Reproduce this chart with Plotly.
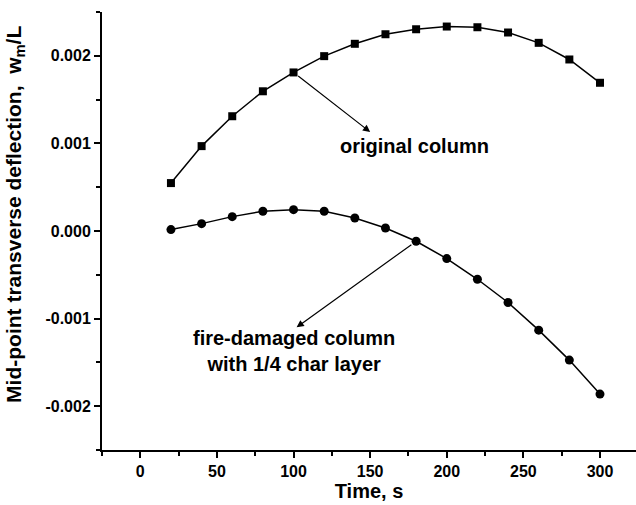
import plotly.graph_objects as go

# Time steps (s)
time_s = [20, 40, 60, 80, 100, 120, 140, 160, 180, 200, 220, 240, 260, 280, 300]

# Mid-point transverse deflection w_m/L
original = [0.000547, 0.000969, 0.00131, 0.001595, 0.00181, 0.001996, 0.002137,
            0.002246, 0.002303, 0.002334, 0.002326, 0.002266, 0.002148, 0.001958, 0.001692]
fire_damaged = [0.000016, 0.000084, 0.000164, 0.000225, 0.000244, 0.000225, 0.000148,
                0.000034, -0.000117, -0.000315, -0.000551, -0.000816, -0.001132,
                -0.001474, -0.001862]

x_ticks = [0, 50, 100, 150, 200, 250, 300]
y_ticks = [-0.002, -0.001, 0.0, 0.001, 0.002]
y_tick_text = ["-0.002", "-0.001", "0.000", "0.001", "0.002"]

FONT = "Liberation Sans, Arial, sans-serif"

fig = go.Figure()
fig.add_trace(go.Scatter(
    x=time_s, y=original, mode="lines+markers", name="original column",
    line=dict(color="black", width=1.5),
    marker=dict(symbol="square", size=8, color="black"),
))
fig.add_trace(go.Scatter(
    x=time_s, y=fire_damaged, mode="lines+markers", name="fire-damaged column",
    line=dict(color="black", width=1.5),
    marker=dict(symbol="circle", size=9, color="black"),
))

# Pointer arrows from the curves to the labels
fig.add_annotation(x=150, y=0.00113, ax=time_s[4], ay=original[4],
                   xref="x", yref="y", axref="x", ayref="y", text="",
                   showarrow=True, arrowhead=2, arrowsize=1.2, arrowwidth=1.2,
                   arrowcolor="black", standoff=0, startstandoff=4)
fig.add_annotation(x=102, y=-0.0011, ax=time_s[8], ay=fire_damaged[8],
                   xref="x", yref="y", axref="x", ayref="y", text="",
                   showarrow=True, arrowhead=2, arrowsize=1.2, arrowwidth=1.2,
                   arrowcolor="black", standoff=0, startstandoff=4)

fig.add_annotation(x=179, y=0.00097, xref="x", yref="y", text="<b>original column</b>",
                   showarrow=False, font=dict(family=FONT, size=20, color="black"))
fig.add_annotation(x=100, y=-0.00137, xref="x", yref="y",
                   text="<b>fire-damaged column<br>with 1/4 char layer</b>",
                   showarrow=False, align="center",
                   font=dict(family=FONT, size=20, color="black"))

# Vertical axis title
fig.add_annotation(
    x=-0.163, y=0.539, xref="paper", yref="paper", textangle=-90,
    text="<b>Mid-point transverse deflection,  w<sub>m</sub>/L</b>",
    showarrow=False, font=dict(family=FONT, size=21, color="black"),
    xanchor="center", yanchor="middle",
)

fig.update_layout(
    width=636, height=505,
    margin=dict(l=102, r=0, t=12, b=55),
    paper_bgcolor="white", plot_bgcolor="white",
    showlegend=False,
    font=dict(family=FONT, color="black"),
)
fig.update_xaxes(
    range=[-25, 323.5], tickvals=x_ticks, ticktext=[f"<b>{v}</b>" for v in x_ticks],
    ticks="outside", ticklen=6, tickwidth=2, tickcolor="black",
    minor=dict(tickvals=[-25, 25, 75, 125, 175, 225, 275], ticks="outside",
               ticklen=4, tickwidth=2, tickcolor="black"),
    showline=True, linewidth=2, linecolor="black", showgrid=False, zeroline=False,
    tickfont=dict(family=FONT, size=16, color="black"),
    title=dict(text="<b>Time, s</b>", font=dict(family=FONT, size=20, color="black"),
               standoff=4),
)
fig.update_yaxes(
    range=[-0.0025, 0.0025], tickvals=y_ticks, ticktext=[f"<b>{t}</b>" for t in y_tick_text],
    ticks="outside", ticklen=6, tickwidth=2, tickcolor="black",
    minor=dict(tickvals=[-0.0025, -0.0015, -0.0005, 0.0005, 0.0015, 0.0025],
               ticks="outside", ticklen=4, tickwidth=2, tickcolor="black"),
    showline=True, linewidth=2, linecolor="black", showgrid=False, zeroline=False,
    tickfont=dict(family=FONT, size=16, color="black"),
)

fig.write_html("out.html")
